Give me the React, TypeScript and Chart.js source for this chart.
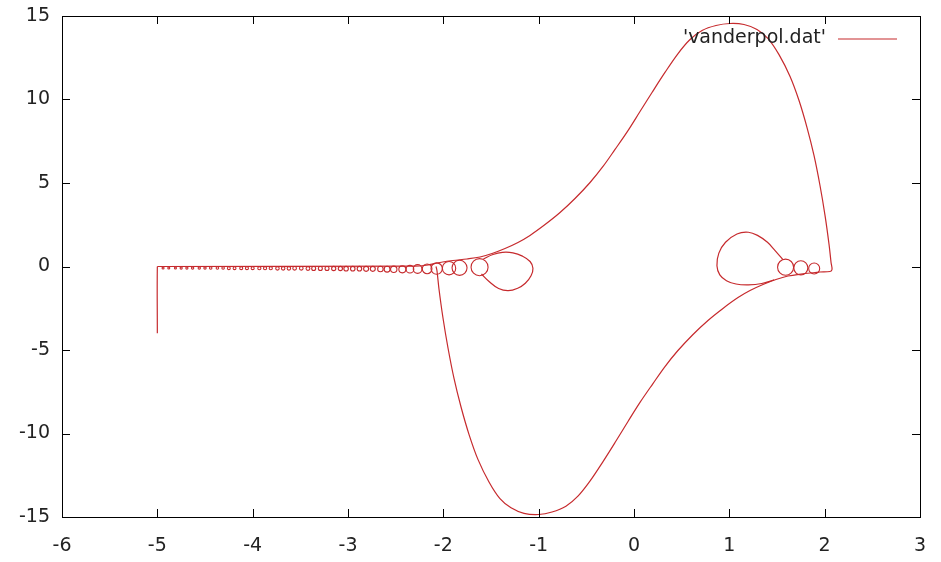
import React, { useEffect, useRef } from "react";
import { Chart, registerables } from "chart.js";

Chart.register(...registerables);

// Phase portrait of the Van der Pol oscillator: x against dx/dt.
const SERIES_NAME = "'vanderpol.dat'";
const LINE_COLOR = "#c62a2d";

const xTicks = [-6, -5, -4, -3, -2, -1, 0, 1, 2, 3];
const yTicks = [-15, -10, -5, 0, 5, 10, 15];

// initial transient: drop in from the starting point, then run along the axis
const startX = [-5.0, -5.0, -4.99, -2.3];
const startY = [-4.0, -0.02, 0.0, 0.02];

// upper branch of the limit cycle, left to right, then down to the corner
const upperX = [-2.2, -2.035, -1.9, -1.752, -1.615, -1.489, -1.353, -1.217, -1.091, -0.933, -0.776, -0.619, -0.461, -0.325, -0.199, -0.063, 0.063, 0.189, 0.325, 0.462, 0.588, 0.714, 0.86, 1.007, 1.154, 1.29, 1.406, 1.521, 1.637, 1.731, 1.815, 1.888, 1.951, 2.004, 2.046, 2.067, 2.077, 2.056];
const upperY = [0.06, 0.24, 0.36, 0.45, 0.57, 0.78, 1.08, 1.44, 1.86, 2.51, 3.23, 4.07, 5.03, 5.99, 7.01, 8.14, 9.28, 10.42, 11.62, 12.75, 13.59, 14.13, 14.43, 14.55, 14.49, 14.19, 13.65, 12.69, 11.38, 9.94, 8.32, 6.65, 4.85, 3.05, 1.32, 0.24, -0.18, -0.3];

// lower branch, right to left, back up to the axis
const lowerX = [1.95, 1.9, 1.752, 1.615, 1.489, 1.353, 1.217, 1.091, 0.933, 0.776, 0.619, 0.461, 0.325, 0.199, 0.063, -0.063, -0.189, -0.325, -0.462, -0.588, -0.714, -0.86, -1.0, -1.154, -1.29, -1.406, -1.521, -1.637, -1.731, -1.815, -1.888, -1.951, -2.004, -2.046, -2.067, -2.077];
const lowerY = [-0.33, -0.36, -0.45, -0.57, -0.78, -1.08, -1.44, -1.86, -2.51, -3.23, -4.07, -5.03, -5.99, -7.01, -8.14, -9.28, -10.45, -11.68, -12.85, -13.75, -14.35, -14.7, -14.85, -14.78, -14.45, -13.9, -12.9, -11.55, -10.05, -8.4, -6.7, -4.88, -3.07, -1.33, -0.24, 0.0];

// teardrop loop on the left
const leftDropX = [-1.58, -1.48, -1.38, -1.27, -1.17, -1.09, -1.06, -1.08, -1.14, -1.22, -1.32, -1.42, -1.52, -1.6];
const leftDropY = [0.45, 0.72, 0.85, 0.82, 0.62, 0.3, -0.1, -0.55, -1.0, -1.3, -1.45, -1.32, -0.9, -0.45];

// teardrop loop on the right
const rightDropX = [1.56, 1.48, 1.4, 1.3, 1.2, 1.08, 0.96, 0.89, 0.87, 0.9, 0.97, 1.07, 1.2, 1.34, 1.47];
const rightDropY = [0.42, 0.95, 1.45, 1.85, 2.05, 1.95, 1.45, 0.8, 0.05, -0.5, -0.85, -1.05, -1.1, -1.02, -0.8];

// small loops wound along the axis: centres and heights
const leftLoopX = [-1.62, -1.83, -1.94, -2.07, -2.17, -2.27, -2.35, -2.43, -2.52, -2.59, -2.66, -2.74, -2.81, -2.88, -2.95, -3.02, -3.08, -3.15, -3.22, -3.29, -3.36, -3.42, -3.49, -3.56, -3.62, -3.68, -3.74, -3.81, -3.87, -3.93, -4.0, -4.06, -4.12, -4.19, -4.25, -4.31, -4.37, -4.44, -4.5, -4.56, -4.63, -4.69, -4.75, -4.81, -4.88, -4.94];
const leftLoopY = [-0.04, -0.08, -0.1, -0.12, -0.14, -0.15, -0.16, -0.17, -0.17, -0.16, -0.15, -0.14, -0.14, -0.13, -0.13, -0.13, -0.12, -0.12, -0.12, -0.12, -0.12, -0.12, -0.11, -0.11, -0.11, -0.11, -0.11, -0.1, -0.1, -0.1, -0.1, -0.1, -0.1, -0.1, -0.1, -0.09, -0.09, -0.09, -0.09, -0.09, -0.09, -0.09, -0.09, -0.09, -0.09, -0.09];
const leftLoopH = [1.02, 0.9, 0.8, 0.68, 0.58, 0.52, 0.46, 0.42, 0.38, 0.35, 0.33, 0.3, 0.3, 0.27, 0.27, 0.27, 0.25, 0.25, 0.24, 0.24, 0.24, 0.23, 0.22, 0.22, 0.21, 0.21, 0.21, 0.19, 0.19, 0.19, 0.18, 0.18, 0.18, 0.17, 0.17, 0.15, 0.15, 0.15, 0.14, 0.14, 0.14, 0.13, 0.13, 0.12, 0.12, 0.12];

const rightLoopX = [1.59, 1.75, 1.89];
const rightLoopY = [-0.04, -0.08, -0.12];
const rightLoopH = [0.96, 0.84, 0.66];

const FONT = { family: "'DejaVu Sans', sans-serif", size: 19 };
const TEXT_COLOR = "#222";
const TICK_LEN = 8;

const toPoints = (xs: number[], ys: number[]) => xs.map((x, i) => ({ x, y: ys[i] }));

const mainPath = [
  ...toPoints(startX, startY),
  ...toPoints(upperX, upperY),
  ...toPoints(lowerX, lowerY),
];
const loopX = [...leftLoopX, ...rightLoopX];
const loopY = [...leftLoopY, ...rightLoopY];
const loopH = [...leftLoopH, ...rightLoopH];

// inward ticks on all four sides, the border box and the key in the corner
const framePlugin = {
  id: "gnuFrame",
  afterDatasetsDraw(chart: any) {
    const { ctx, chartArea: a, scales } = chart;
    const sx = scales.x;
    const sy = scales.y;
    ctx.save();
    ctx.strokeStyle = "#000";
    ctx.lineWidth = 1;
    ctx.beginPath();
    for (const v of xTicks) {
      const px = Math.round(sx.getPixelForValue(v)) + 0.5;
      ctx.moveTo(px, a.bottom);
      ctx.lineTo(px, a.bottom - TICK_LEN);
      ctx.moveTo(px, a.top);
      ctx.lineTo(px, a.top + TICK_LEN);
    }
    for (const v of yTicks) {
      const py = Math.round(sy.getPixelForValue(v)) + 0.5;
      ctx.moveTo(a.left, py);
      ctx.lineTo(a.left + TICK_LEN, py);
      ctx.moveTo(a.right, py);
      ctx.lineTo(a.right - TICK_LEN, py);
    }
    ctx.stroke();
    ctx.strokeRect(Math.round(a.left) + 0.5, Math.round(a.top) + 0.5, Math.round(a.right - a.left), Math.round(a.bottom - a.top));

    // key
    const ky = a.top + 22;
    ctx.font = `${FONT.size}px ${FONT.family}`;
    ctx.fillStyle = TEXT_COLOR;
    ctx.textAlign = "right";
    ctx.textBaseline = "middle";
    ctx.fillText(SERIES_NAME, a.right - 94, ky);
    ctx.strokeStyle = LINE_COLOR;
    ctx.lineWidth = 1.2;
    ctx.beginPath();
    ctx.moveTo(a.right - 82, ky + 1);
    ctx.lineTo(a.right - 23, ky + 1);
    ctx.stroke();
    ctx.restore();
  },
};

export default function App() {
  const canvasRef = useRef<HTMLCanvasElement | null>(null);

  useEffect(() => {
    const canvas = canvasRef.current;
    if (!canvas) return;
    const chart = new Chart(canvas, {
      type: "scatter",
      data: {
        datasets: [
          {
            label: SERIES_NAME,
            data: mainPath,
            showLine: true,
            borderColor: LINE_COLOR,
            borderWidth: 1.2,
            pointRadius: 0,
            tension: 0.35,
          },
          {
            label: "left loop",
            data: toPoints(leftDropX, leftDropY),
            showLine: true,
            borderColor: LINE_COLOR,
            borderWidth: 1.2,
            pointRadius: 0,
            tension: 0.4,
          },
          {
            label: "right loop",
            data: toPoints(rightDropX, rightDropY),
            showLine: true,
            borderColor: LINE_COLOR,
            borderWidth: 1.2,
            pointRadius: 0,
            tension: 0.4,
          },
          {
            label: "small loops",
            data: toPoints(loopX, loopY),
            showLine: false,
            pointStyle: "circle",
            backgroundColor: "rgba(0,0,0,0)",
            borderColor: LINE_COLOR,
            pointBorderWidth: 1.1,
            pointRadius: (c: any) => {
              const s = c.chart.scales.y;
              const h = loopH[c.dataIndex] ?? 0;
              return Math.max(0.8, Math.abs(s.getPixelForValue(0) - s.getPixelForValue(h / 2)));
            },
          },
        ],
      },
      options: {
        animation: false,
        responsive: false,
        maintainAspectRatio: false,
        events: [],
        layout: { padding: { top: 16, right: 21, left: 0, bottom: 0 } },
        plugins: { legend: { display: false }, tooltip: { enabled: false } },
        scales: {
          x: {
            type: "linear",
            min: -6,
            max: 3,
            afterBuildTicks: (s: any) => {
              s.ticks = xTicks.map((value) => ({ value }));
            },
            afterFit: (s: any) => {
              s.height = 45;
              s.paddingLeft = 0;
              s.paddingRight = 0;
            },
            grid: { display: false, drawTicks: false },
            border: { display: false },
            ticks: { font: FONT, color: TEXT_COLOR, padding: 18, maxRotation: 0, autoSkip: false },
          },
          y: {
            type: "linear",
            min: -15,
            max: 15,
            afterBuildTicks: (s: any) => {
              s.ticks = yTicks.map((value) => ({ value }));
            },
            afterFit: (s: any) => {
              s.width = 62;
              s.paddingTop = 0;
              s.paddingBottom = 0;
            },
            grid: { display: false, drawTicks: false },
            border: { display: false },
            ticks: { font: FONT, color: TEXT_COLOR, padding: 12, autoSkip: false },
          },
        },
      },
      plugins: [framePlugin],
    });
    return () => chart.destroy();
  }, []);

  return (
    <div style={{ position: "fixed", left: 0, top: 0, width: 941, height: 562, background: "#fff" }}>
      <canvas ref={canvasRef} width={941} height={562} style={{ display: "block" }} />
    </div>
  );
}
